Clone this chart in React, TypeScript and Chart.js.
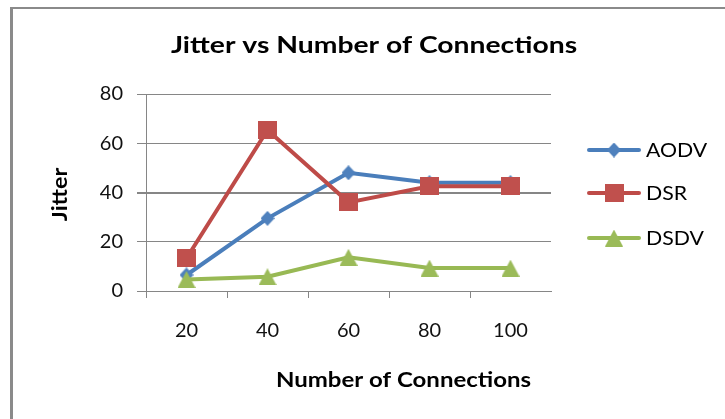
import React, { useEffect, useRef } from "react";
import { Chart, registerables } from "chart.js";

Chart.register(...registerables);

const categories = ["20", "40", "60", "80", "100"];
const aodvValues = [6.5, 29.5, 48, 44, 44];
const dsrValues = [13.3, 65.4, 36, 42.5, 42.5];
const dsdvValues = [4.7, 5.8, 13.7, 9.3, 9.3];
const seriesNames = ["AODV", "DSR", "DSDV"];
const yMin = 0;
const yMax = 80;
const yStep = 20;
const chartTitle = "Jitter vs Number of Connections";
const xAxisTitle = "Number of Connections";
const yAxisTitle = "Jitter";

const FONT = "Lato, 'Open Sans', sans-serif";
const GRID = "#868686";
const LINE_COLORS = ["#4A7EBB", "#BE4B48", "#98B954"];
const MARK_COLORS = ["#4F81BD", "#C0504D", "#9BBB59"];
const MARK_KINDS = ["diamond", "square", "triangle"];

function makeMarker(kind: string, color: string): HTMLCanvasElement {
  const c = document.createElement("canvas");
  let w = 18;
  let h = 17;
  if (kind === "diamond") {
    w = 14;
    h = 15;
  } else if (kind === "square") {
    w = 19;
    h = 18;
  }
  c.width = w;
  c.height = h;
  const g = c.getContext("2d")!;
  g.fillStyle = color;
  g.beginPath();
  if (kind === "diamond") {
    g.moveTo(w / 2, 0);
    g.lineTo(w, h / 2);
    g.lineTo(w / 2, h);
    g.lineTo(0, h / 2);
  } else if (kind === "square") {
    g.rect(0, 0, w, h);
  } else {
    g.moveTo(w / 2, 0);
    g.lineTo(w, h);
    g.lineTo(0, h);
  }
  g.closePath();
  g.fill();
  return c;
}

function stretchedText(ctx: any, text: string, x: number, y: number, sx: number, align: string) {
  ctx.save();
  ctx.translate(x, y);
  ctx.scale(sx, 1);
  ctx.textAlign = align;
  ctx.fillText(text, 0, 0);
  ctx.restore();
}

export default function App() {
  const ref = useRef<HTMLCanvasElement | null>(null);

  useEffect(() => {
    if (!ref.current) return;
    const markers = MARK_KINDS.map((k, i) => makeMarker(k, MARK_COLORS[i]));
    const values = [aodvValues, dsrValues, dsdvValues];

    const decor = {
      id: "decor",
      beforeDraw(chart: any) {
        const ctx = chart.ctx;
        ctx.save();
        ctx.fillStyle = "#ffffff";
        ctx.fillRect(0, 0, chart.width, chart.height);
        ctx.fillStyle = "#8a8a8a";
        ctx.fillRect(10, 7, 3, chart.height - 7);
        ctx.fillRect(10, 7, chart.width - 10, 2);
        ctx.restore();
      },
      afterDraw(chart: any) {
        const ctx = chart.ctx;
        const area = chart.chartArea;
        ctx.save();
        ctx.fillStyle = "#000";
        ctx.textBaseline = "alphabetic";
        // chart title
        ctx.font = `bold 23px ${FONT}`;
        stretchedText(ctx, chartTitle, 374, 53, 1.23, "center");
        // x axis title
        ctx.font = `bold 20px ${FONT}`;
        stretchedText(ctx, xAxisTitle, 403.5, 387, 1.2, "center");
        // y axis title
        ctx.save();
        ctx.translate(61, (area.top + area.bottom) / 2 + 2);
        ctx.rotate(-Math.PI / 2);
        ctx.scale(1.17, 1);
        ctx.textAlign = "center";
        ctx.textBaseline = "middle";
        ctx.fillText(yAxisTitle, 0, 0);
        ctx.restore();
        // legend
        const legendY = [150, 193, 238];
        seriesNames.forEach((name, i) => {
          const y = legendY[i];
          ctx.strokeStyle = LINE_COLORS[i];
          ctx.lineWidth = 4;
          ctx.lineCap = "round";
          ctx.beginPath();
          ctx.moveTo(589, y);
          ctx.lineTo(639, y);
          ctx.stroke();
          const m = markers[i];
          ctx.drawImage(m, 614 - m.width / 2, y - m.height / 2);
          ctx.fillStyle = "#000";
          ctx.font = `19px ${FONT}`;
          ctx.textBaseline = "alphabetic";
          stretchedText(ctx, name, 646, y + 7, 1.12, "left");
        });
        ctx.restore();
      },
    };

    const chart = new Chart(ref.current, {
      type: "line",
      data: {
        labels: categories,
        datasets: seriesNames.map((name, i) => ({
          label: name,
          data: values[i],
          borderColor: LINE_COLORS[i],
          backgroundColor: MARK_COLORS[i],
          borderWidth: 4,
          tension: 0,
          pointStyle: markers[i],
          pointRadius: 8,
          order: 2 - i,
          clip: false,
        })),
      },
      options: {
        responsive: false,
        animation: false,
        devicePixelRatio: 1,
        events: [],
        layout: { padding: { left: 86, top: 94, right: 174, bottom: 0 } },
        plugins: {
          legend: { display: false },
          title: { display: false },
          tooltip: { enabled: false },
        },
        scales: {
          x: {
            type: "category",
            offset: true,
            grid: {
              offset: true,
              drawOnChartArea: false,
              drawTicks: true,
              tickLength: 7,
              color: GRID,
              tickColor: (c: any) => (c.type === "tick" ? GRID : "rgba(0,0,0,0)"),
            },
            border: { display: true, color: GRID, width: 1 },
            ticks: {
              font: { family: FONT, size: 20 },
              color: "#111",
              padding: 21,
              maxRotation: 0,
              autoSkip: false,
            },
            afterFit: (s: any) => {
              s.height = 128;
            },
          },
          y: {
            min: yMin,
            max: yMax,
            grid: {
              color: GRID,
              lineWidth: (c: any) => (c.tick && c.tick.value === 40 ? 2 : 1),
              tickLength: 9,
            },
            border: { display: true, color: GRID, width: 1 },
            ticks: {
              stepSize: yStep,
              font: { family: FONT, size: 20 },
              color: "#111",
              padding: 14,
            },
            afterFit: (s: any) => {
              s.width = 60;
            },
          },
        },
      },
      plugins: [decor],
    } as any);

    return () => chart.destroy();
  }, []);

  return (
    <div style={{ position: "absolute", left: 0, top: 0, width: 725, height: 419 }}>
      <canvas ref={ref} width={725} height={419} style={{ display: "block" }} />
    </div>
  );
}
